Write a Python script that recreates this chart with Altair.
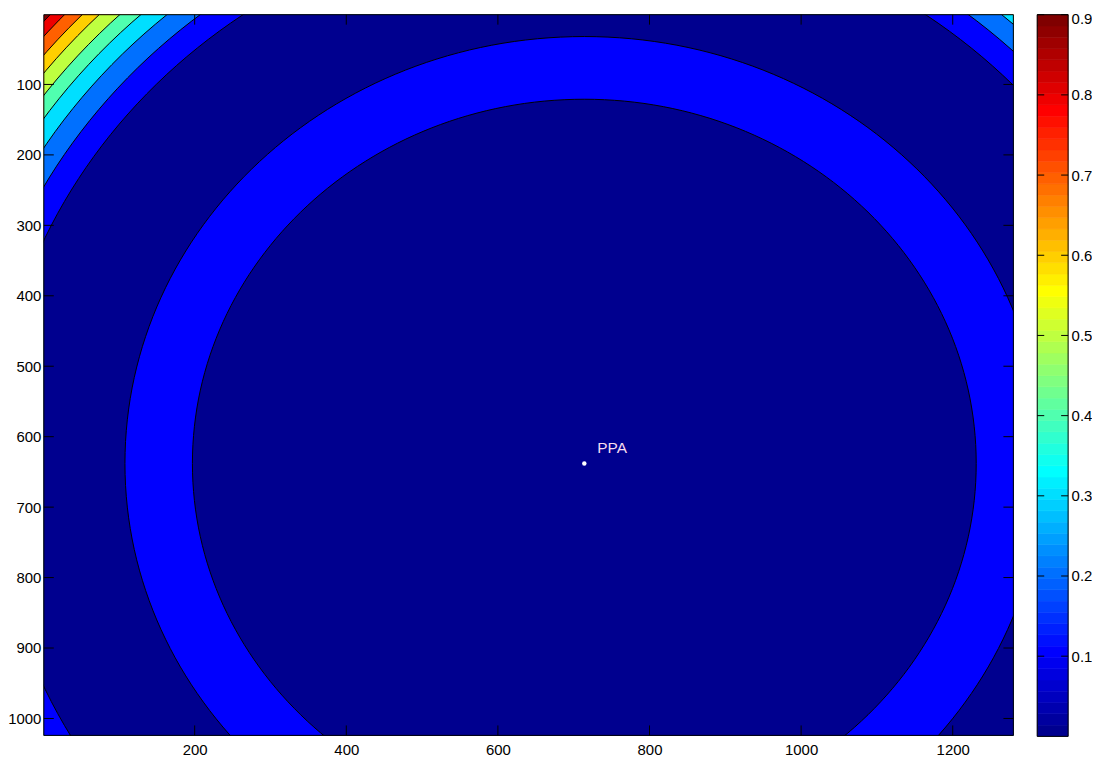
import math
import altair as alt
import pandas as pd

# ---------------- data ----------------
x_ticks = [200, 400, 600, 800, 1000, 1200]
y_ticks = [100, 200, 300, 400, 500, 600, 700, 800, 900, 1000]
cbar_ticks = [0.1, 0.2, 0.3, 0.4, 0.5, 0.6, 0.7, 0.8, 0.9]
x_domain = [1, 1280]
y_domain = [1, 1024]
c_domain = [0.0, 0.9]

ppa_x = [714]
ppa_y = [638]
ppa_label = ["PPA"]

# contour lines: radius (image units) around the PPA, and the level of the band just inside
boundary_radius = [950, 936, 919, 903, 884, 865, 842, 814, 780, 606, 517]
inside_level = [0.8, 0.7, 0.6, 0.5, 0.4, 0.3, 0.2, 0.1, 0.0, 0.1, 0.0]
outside_level = 0.9

# ---------------- styling / layout ----------------
FONT = "Liberation Sans"
FS = 15
W, H = 974, 724
CBW, CBH = 31, 725
TICK = 10
CBTICK = 7
kx = W / (x_domain[1] - x_domain[0])
ky = H / (y_domain[1] - y_domain[0])
aspect = ky / kx


def jet(m=64):
    n = math.ceil(m / 4)
    u = [k / n for k in range(1, n + 1)] + [1.0] * (n - 1) + [k / n for k in range(n, 0, -1)]
    J = [[0.0, 0.0, 0.0] for _ in range(m)]
    base = math.ceil(n / 2) - (1 if m % 4 == 1 else 0)
    for k, uk in enumerate(u, start=1):
        g = base + k
        r = g + n
        b = g - n
        if 1 <= r <= m:
            J[r - 1][0] = uk
        if 1 <= g <= m:
            J[g - 1][1] = uk
        if 1 <= b <= m:
            J[b - 1][2] = uk
    return ["#%02x%02x%02x" % tuple(int(round(c * 255)) for c in row) for row in J]


JET = jet(64)


def level_color(v):
    idx = int(math.floor((v - c_domain[0]) / (c_domain[1] - c_domain[0]) * len(JET) + 1e-9))
    return JET[max(0, min(len(JET) - 1, idx))]


xs = alt.Scale(domain=x_domain, nice=False, zero=False)
ys = alt.Scale(domain=y_domain, nice=False, zero=False, reverse=True)

x_axis = alt.Axis(values=x_ticks, format="d", ticks=False, tickSize=0, domain=False, grid=False, title=None,
                  labelPadding=7, labelFontSize=FS, labelFont=FONT, labelColor="black")
y_axis = alt.Axis(values=y_ticks, format="d", ticks=False, tickSize=0, domain=False, grid=False, title=None,
                  labelPadding=3, labelFontSize=FS, labelFont=FONT, labelColor="black",
                  minExtent=35, maxExtent=35)

ellipse = "M -1 0 A 1 {a:.5f} 0 1 0 1 0 A 1 {a:.5f} 0 1 0 -1 0 Z".format(a=aspect)

one = pd.DataFrame({"k": [0]})

background = alt.Chart(one).mark_rect(fill=level_color(outside_level)).encode(
    x=alt.value(0), x2=alt.value(W), y=alt.value(0), y2=alt.value(H)
)

bands_df = pd.DataFrame({
    "r": boundary_radius,
    "level": inside_level,
    "cx": [ppa_x[0]] * len(boundary_radius),
    "cy": [ppa_y[0]] * len(boundary_radius),
})
bands_df["color"] = [level_color(v) for v in inside_level]

bands = alt.Chart(bands_df).mark_point(
    shape=ellipse, filled=True, opacity=1, stroke="black", strokeWidth=1, strokeOpacity=1, clip=True
).encode(
    x=alt.X("cx:Q", scale=xs, axis=x_axis),
    y=alt.Y("cy:Q", scale=ys, axis=y_axis),
    size=alt.Size("r:Q", scale=alt.Scale(type="pow", exponent=2, domain=[0, 1000],
                                         range=[0, (2 * 1000 * kx) ** 2]), legend=None),
    fill=alt.Fill("color:N", scale=None),
    order=alt.Order("r:Q", sort="descending"),
)

xt = pd.DataFrame({"t": x_ticks})
yt = pd.DataFrame({"t": y_ticks})
xtick_b = alt.Chart(xt).mark_rule(color="black", strokeWidth=1).encode(
    x=alt.X("t:Q", scale=xs, axis=x_axis), y=alt.value(H - TICK), y2=alt.value(H))
xtick_t = alt.Chart(xt).mark_rule(color="black", strokeWidth=1).encode(
    x=alt.X("t:Q", scale=xs, axis=x_axis), y=alt.value(0), y2=alt.value(TICK))
ytick_l = alt.Chart(yt).mark_rule(color="black", strokeWidth=1).encode(
    y=alt.Y("t:Q", scale=ys, axis=y_axis), x=alt.value(0), x2=alt.value(TICK))
ytick_r = alt.Chart(yt).mark_rule(color="black", strokeWidth=1).encode(
    y=alt.Y("t:Q", scale=ys, axis=y_axis), x=alt.value(W - TICK), x2=alt.value(W))

ppa_df = pd.DataFrame({"x": ppa_x, "y": ppa_y, "label": ppa_label})
ppa_dot = alt.Chart(ppa_df).mark_point(shape="circle", filled=True, color="white", opacity=1, size=20).encode(
    x=alt.X("x:Q", scale=xs, axis=x_axis), y=alt.Y("y:Q", scale=ys, axis=y_axis))
ppa_text = alt.Chart(ppa_df).mark_text(
    align="left", baseline="alphabetic", dx=13, dy=-10, fontSize=15.5, font=FONT, color="#f7dcee"
).encode(x=alt.X("x:Q", scale=xs, axis=x_axis), y=alt.Y("y:Q", scale=ys, axis=y_axis), text="label:N")

frame = alt.Chart(one).mark_rect(filled=False, stroke="black", strokeWidth=1).encode(
    x=alt.value(0), x2=alt.value(W), y=alt.value(0), y2=alt.value(H))

main = alt.layer(background, bands, xtick_b, xtick_t, ytick_l, ytick_r, ppa_dot, ppa_text, frame).properties(
    width=W, height=H)

# ---------------- colour bar ----------------
step = (c_domain[1] - c_domain[0]) / len(JET)
cb_df = pd.DataFrame({
    "lo": [c_domain[0] + i * step for i in range(len(JET))],
    "hi": [c_domain[0] + (i + 1) * step for i in range(len(JET))],
    "color": JET,
})
cs = alt.Scale(domain=c_domain, nice=False, zero=False)
c_axis = alt.Axis(orient="right", values=cbar_ticks, format=".1f", ticks=False, tickSize=0, domain=False,
                  grid=False, title=None, labelPadding=3, labelFontSize=FS, labelFont=FONT, labelColor="black",
                  labelFlush=1, labelFlushOffset=3)
cb_rects = alt.Chart(cb_df).mark_rect(strokeWidth=0.6).encode(
    y=alt.Y("lo:Q", scale=cs, axis=c_axis), y2="hi:Q",
    x=alt.value(0), x2=alt.value(CBW),
    fill=alt.Fill("color:N", scale=None), stroke=alt.Stroke("color:N", scale=None))
ct = pd.DataFrame({"t": cbar_ticks})
cb_tick_l = alt.Chart(ct).mark_rule(color="black", strokeWidth=1).encode(
    y=alt.Y("t:Q", scale=cs, axis=c_axis), x=alt.value(0), x2=alt.value(CBTICK))
cb_tick_r = alt.Chart(ct).mark_rule(color="black", strokeWidth=1).encode(
    y=alt.Y("t:Q", scale=cs, axis=c_axis), x=alt.value(CBW - CBTICK), x2=alt.value(CBW))
cb_frame = alt.Chart(one).mark_rect(filled=False, stroke="black", strokeWidth=1).encode(
    x=alt.value(0), x2=alt.value(CBW), y=alt.value(0), y2=alt.value(CBH))
cbar = alt.layer(cb_rects, cb_tick_l, cb_tick_r, cb_frame).properties(width=CBW, height=CBH)

chart = alt.hconcat(main, cbar, spacing=22).properties(
    padding={"left": -1, "top": 2, "right": 0, "bottom": 0}
).configure_view(stroke=None)

chart.save("out.html", embed_options={"renderer": "svg", "actions": False})
